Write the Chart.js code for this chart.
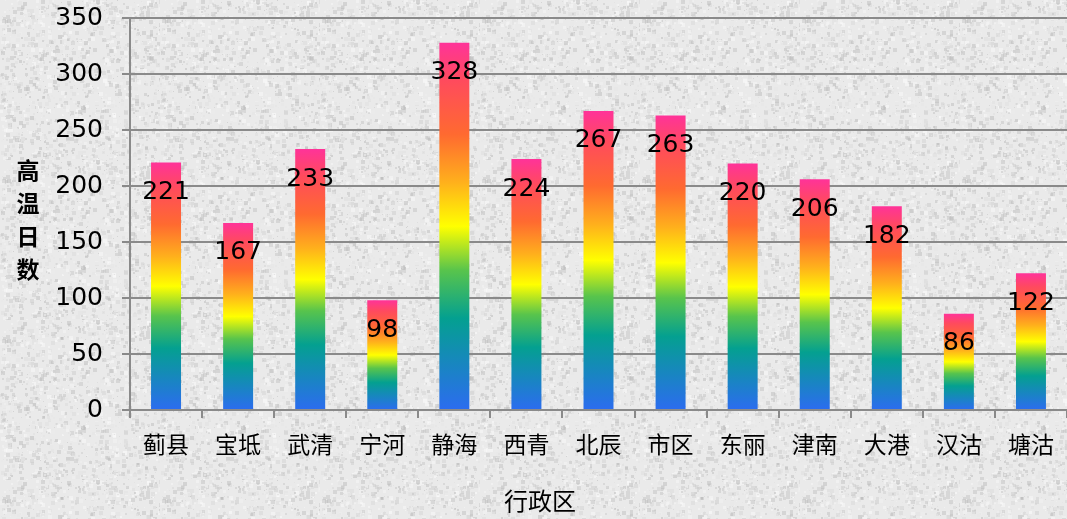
<!DOCTYPE html>
<html>
<head>
<meta charset="utf-8">
<script src="https://cdn.jsdelivr.net/npm/chart.js@4"></script>
<style>
  html, body { margin: 0; padding: 0; }
  body { width: 1067px; height: 519px; overflow: hidden; background: #e9e9e9; }
  #wrap { position: relative; width: 1067px; height: 519px; }
</style>
</head>
<body>
<div id="wrap"><canvas id="myChart" width="1067" height="519"></canvas></div>
<script>
var districts = ["蓟县", "宝坻", "武清", "宁河", "静海", "西青", "北辰", "市区", "东丽", "津南", "大港", "汉沽", "塘沽"];
var hotDays = [221, 167, 233, 98, 328, 224, 267, 263, 220, 206, 182, 86, 122];
var yTicks = [0, 50, 100, 150, 200, 250, 300, 350];

// 背景のザラザラ模様
(function () {
  var c = document.createElement('canvas');
  c.width = 160; c.height = 160;
  var g = c.getContext('2d');
  g.fillStyle = '#eaeaea';
  g.fillRect(0, 0, 160, 160);
  var seed = 12345;
  function rnd() { seed = (seed * 1103515245 + 12345) % 2147483648; return seed / 2147483648; }
  for (var i = 0; i < 1800; i++) {
    var v = Math.floor(185 + rnd() * 70);
    g.fillStyle = 'rgba(' + v + ',' + v + ',' + v + ',0.5)';
    var s = 1 + Math.floor(rnd() * 4);
    g.fillRect(Math.floor(rnd() * 160), Math.floor(rnd() * 160), s, s);
  }
  document.body.style.backgroundImage = 'url(' + c.toDataURL() + ')';
})();

function barGradient(context) {
  var chart = context.chart;
  var y = chart.scales.y;
  if (!y || !context.parsed) return '#ff6a30';
  var top = y.getPixelForValue(context.parsed.y);
  var bottom = y.getPixelForValue(0);
  if (!isFinite(top) || !isFinite(bottom)) return '#ff6a30';
  var grad = chart.ctx.createLinearGradient(0, bottom, 0, top);
  grad.addColorStop(0, '#2c6cf0');
  grad.addColorStop(0.25, '#04a090');
  grad.addColorStop(0.38, '#58c44c');
  grad.addColorStop(0.5, '#ffff00');
  grad.addColorStop(0.62, '#ffb01c');
  grad.addColorStop(0.75, '#ff6a30');
  grad.addColorStop(0.9, '#ff4a5e');
  grad.addColorStop(1, '#ff3399');
  return grad;
}

// 棒の中に数値、軸タイトル
var labelPlugin = {
  id: 'labelPlugin',
  afterDatasetsDraw: function (chart) {
    var ctx = chart.ctx;
    var meta = chart.getDatasetMeta(0);
    ctx.save();
    ctx.fillStyle = '#000';
    ctx.font = '25px "DejaVu Sans"';
    ctx.textAlign = 'center';
    ctx.textBaseline = 'middle';
    meta.data.forEach(function (bar, i) {
      ctx.fillText(String(hotDays[i]), bar.x, bar.y + 30);
    });
    ctx.restore();
  },
  afterDraw: function (chart) {
    var ctx = chart.ctx;
    ctx.save();
    ctx.fillStyle = '#000';
    ctx.font = 'bold 23px "Noto Sans CJK SC"';
    ctx.textAlign = 'center';
    ctx.textBaseline = 'middle';
    var chars = ["高", "温", "日", "数"];
    chars.forEach(function (ch, i) {
      ctx.fillText(ch, 28, 170 + i * 33);
    });
    ctx.font = '24px "Noto Sans CJK SC"';
    ctx.fillText("行政区", 540, 501);
    ctx.restore();
  }
};

var ctx = document.getElementById("myChart");
var myBarChart = new Chart(ctx, {
  type: 'bar',
  data: {
    labels: districts,
    datasets: [{
      label: '高温日数',
      data: hotDays,
      backgroundColor: barGradient,
      borderWidth: 0,
      barPercentage: 0.416,
      categoryPercentage: 1.0
    }]
  },
  options: {
    responsive: false,
    animation: false,
    layout: { padding: { top: 18, right: 0, left: 0, bottom: 0 } },
    plugins: {
      legend: { display: false },
      tooltip: { enabled: false }
    },
    scales: {
      x: {
        afterFit: function (scale) {
          scale.height = 109;
          scale.paddingLeft = 0;
          scale.paddingRight = 0;
        },
        grid: {
          display: true,
          offset: true,
          drawOnChartArea: false,
          color: '#8a8a8a',
          lineWidth: 2,
          tickLength: 8
        },
        border: { color: '#8a8a8a', width: 2 },
        ticks: {
          color: '#000',
          padding: 12,
          font: { family: '"Noto Sans CJK SC"', size: 23 }
        }
      },
      y: {
        min: 0,
        max: 350,
        afterFit: function (scale) {
          scale.width = 130;
          scale.paddingTop = 0;
          scale.paddingBottom = 0;
        },
        afterBuildTicks: function (scale) {
          scale.ticks = yTicks.map(function (v) { return { value: v }; });
        },
        grid: {
          color: '#8a8a8a',
          lineWidth: 2,
          tickLength: 8
        },
        border: { color: '#8a8a8a', width: 2 },
        ticks: {
          color: '#000',
          padding: 19,
          font: { family: '"DejaVu Sans"', size: 25 }
        }
      }
    }
  },
  plugins: [labelPlugin]
});
</script>
</body>
</html>
